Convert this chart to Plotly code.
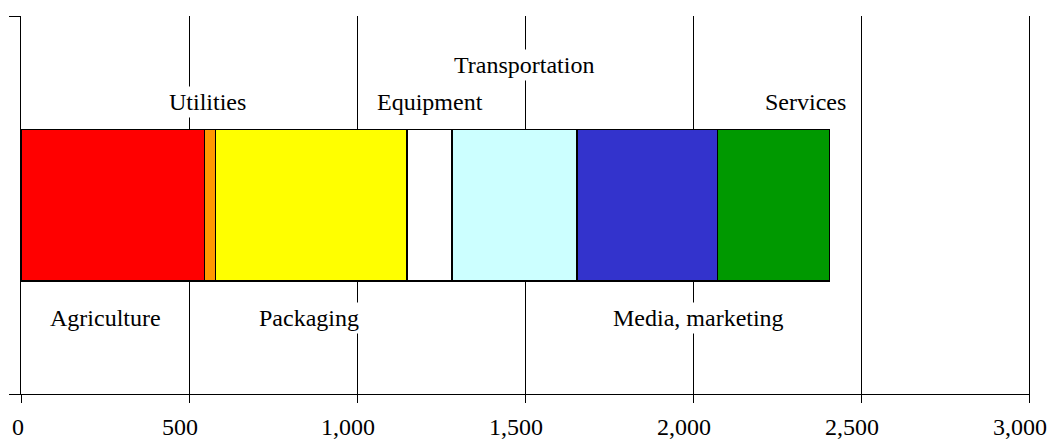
import plotly.graph_objects as go

# Segments of the single stacked bar (left to right)
categories = ['Agriculture', 'Utilities', 'Packaging', 'Equipment',
              'Transportation', 'Media, marketing', 'Services']
values = [546, 33, 569, 135, 371, 419, 333]
colors = ['#FF0000', '#FF9900', '#FFFF00', '#FFFFFF', '#CCFFFF', '#3333CC', '#009900']

tick_vals = [0, 500, 1000, 1500, 2000, 2500, 3000]
tick_text = ['\u20020', '500', '1,000', '1,500', '2,000', '2,500', '3,000']

# label placement (x in data units, y in bar-axis units)
label_x = [251, 554, 858, 1218, 1498, 2016, 2335]
label_y = [-0.298, 0.272, -0.298, 0.272, 0.370, -0.298, 0.272]

FONT = 'Liberation Serif, Times New Roman, serif'

fig = go.Figure()
for name, val, col in zip(categories, values, colors):
    fig.add_trace(go.Bar(x=[val], y=[0], orientation='h', name=name, width=0.4,
                         marker=dict(color=col, line=dict(color='black', width=1.8)),
                         showlegend=False, hoverinfo='x+name'))

for name, lx, ly in zip(categories, label_x, label_y):
    fig.add_annotation(x=lx, y=ly, xref='x', yref='y', text=name, showarrow=False,
                       font=dict(family=FONT, size=24, color='black'),
                       bgcolor='white', borderpad=2, xanchor='center', yanchor='middle')

fig.update_layout(
    barmode='stack', width=1049, height=443,
    margin=dict(l=21, r=20, t=16, b=49),
    paper_bgcolor='white', plot_bgcolor='white',
    font=dict(family=FONT, size=24, color='black'),
    xaxis=dict(range=[0, 3000], tickvals=tick_vals, ticktext=tick_text, automargin=False,
               showgrid=True, gridcolor='black', gridwidth=1, zeroline=False,
               showline=True, linecolor='black', linewidth=1,
               ticks='outside', ticklen=8, tickcolor='black',
               ticklabelshift=-9, ticklabelstandoff=3, ticklabeloverflow='allow'),
    yaxis=dict(range=[-0.5, 0.5], tickvals=[-0.5, 0.5], showticklabels=False, automargin=False,
               showgrid=False, zeroline=False, showline=True, linecolor='black',
               linewidth=1, mirror=True, ticks='outside', ticklen=11, tickcolor='black'),
)

# drop the default 8px body margin so the figure fills the window exactly
fig.write_html('out.html', config={'displayModeBar': False},
               post_script="document.body.style.margin='0';")
